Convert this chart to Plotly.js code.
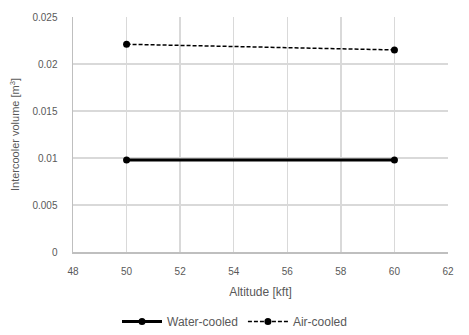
<!DOCTYPE html>
<html><head><meta charset="utf-8">
<script src="https://cdn.plot.ly/plotly-3.0.1.min.js"></script>
<style>html,body{margin:0;padding:0;background:#fff}</style>
</head><body><div id="chart" style="width:469px;height:335px"></div>
<script>
const altitude = [50, 60];
const waterCooled = [0.0098, 0.0098];
const airCooled = [0.0221, 0.0215];
const xTicks = [48, 50, 52, 54, 56, 58, 60, 62];
const yTicks = [0, 0.005, 0.01, 0.015, 0.02, 0.025];
const yTickText = ['0', '0.005', '0.01', '0.015', '0.02', '0.025'];

const data = [
  {x: altitude, y: waterCooled, name: 'Water-cooled', mode: 'lines+markers',
   line: {color: '#000', width: 3}, marker: {color: '#000', size: 7}},
  {x: altitude, y: airCooled, name: 'Air-cooled', mode: 'lines+markers',
   line: {color: '#000', width: 1.5, dash: '4px,2px'}, marker: {color: '#000', size: 7}}
];
const layout = {
  width: 469, height: 335,
  margin: {l: 73, r: 21, t: 17, b: 83, autoexpand: false},
  paper_bgcolor: '#fff', plot_bgcolor: '#fff',
  font: {family: 'Liberation Sans, Arial, sans-serif', size: 10, color: '#595959'},
  showlegend: true,
  legend: {orientation: 'h', x: 0.5, xref: 'container', xanchor: 'center',
           y: 0.04, yref: 'container', yanchor: 'middle',
           font: {size: 12, color: '#595959'}, itemwidth: 40, tracegroupgap: 0},
  xaxis: {range: [48, 62], tickvals: xTicks, ticktext: xTicks.map(String),
          showgrid: true, gridcolor: '#d9d9d9', gridwidth: 1.5,
          showline: true, linecolor: '#bfbfbf', linewidth: 1.5, zeroline: false,
          ticks: 'outside', ticklen: 9, tickcolor: 'rgba(0,0,0,0)',
          tickfont: {size: 10},
          title: {text: 'Altitude [kft]', font: {size: 12, color: '#595959'}, standoff: 12}},
  yaxis: {range: [0, 0.025], tickvals: yTicks, ticktext: yTickText,
          showgrid: true, gridcolor: '#d9d9d9', gridwidth: 1.5,
          showline: true, linecolor: '#bfbfbf', linewidth: 1.5, zeroline: false,
          ticks: 'outside', ticklen: 12, tickcolor: 'rgba(0,0,0,0)',
          tickfont: {size: 10},
          title: {text: 'Intercooler volume [m<sup>3</sup>]', font: {size: 11, color: '#595959'}, standoff: 10}}
};
Plotly.newPlot('chart', data, layout, {displayModeBar: false, staticPlot: true});
</script></body></html>
